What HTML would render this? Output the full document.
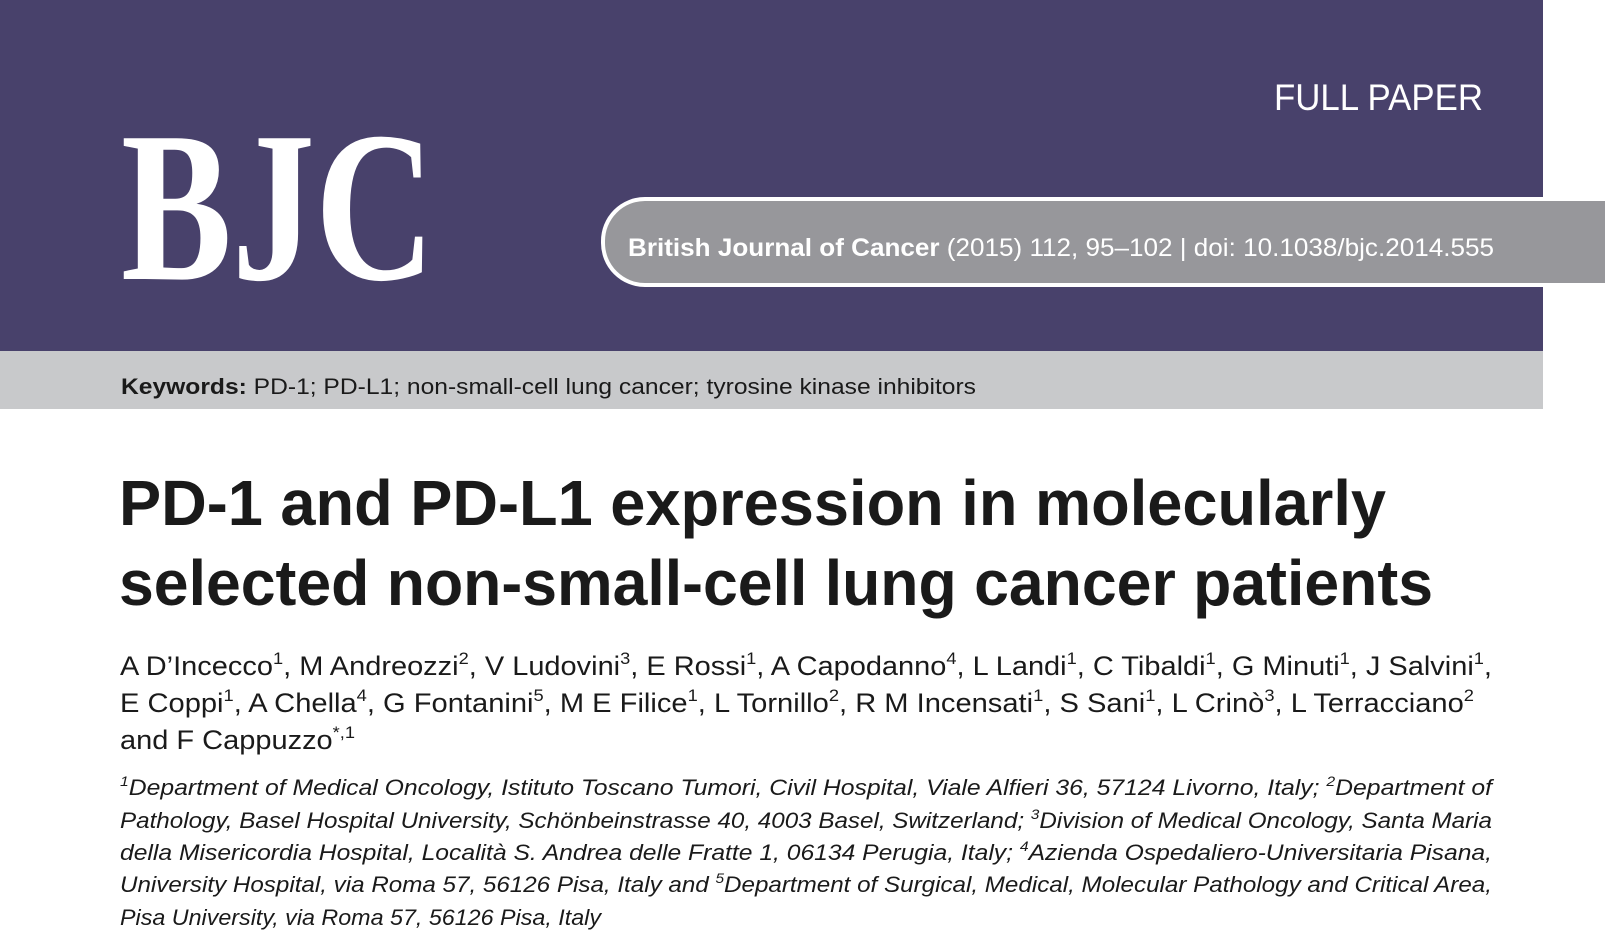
<!DOCTYPE html>
<html><head><meta charset="utf-8"><style>
html,body{margin:0;padding:0;background:#fff;width:1607px;height:936px;overflow:hidden}
svg{display:block}
</style></head><body>
<svg width="1607" height="936" viewBox="0 0 1607 936" xmlns="http://www.w3.org/2000/svg">
<rect x="0" y="0" width="1543" height="351" fill="#48416b"/>
<rect x="0" y="351" width="1543" height="58" fill="#c8c9cb"/>
<text x="1274" y="110" font-family="Liberation Sans, sans-serif" font-size="37" fill="#fff" textLength="209" lengthAdjust="spacingAndGlyphs">FULL PAPER</text>
<text x="121" y="279" font-family="Liberation Serif, serif" font-weight="bold" font-size="215" fill="#fff" textLength="314" lengthAdjust="spacingAndGlyphs">BJC</text>
<path d="M1607 199 H645 a42 42 0 0 0 -42 42 v2 a42 42 0 0 0 42 42 H1607 Z" fill="#97979b" stroke="#fff" stroke-width="4"/>
<text x="628" y="256" font-family="Liberation Sans, sans-serif" font-size="25" fill="#fff" textLength="866" lengthAdjust="spacingAndGlyphs"><tspan font-weight="bold">British Journal of Cancer</tspan> (2015) 112, 95–102 | doi: 10.1038/bjc.2014.555</text>
<text x="121" y="394" font-family="Liberation Sans, sans-serif" font-size="22" fill="#1a1a1a" textLength="855" lengthAdjust="spacingAndGlyphs"><tspan font-weight="bold">Keywords:</tspan> PD-1; PD-L1; non-small-cell lung cancer; tyrosine kinase inhibitors</text>
<g font-family="Liberation Sans, sans-serif" font-weight="bold" font-size="64" fill="#1a1a1a">
<text x="119" y="525" textLength="1267" lengthAdjust="spacingAndGlyphs">PD-1 and PD-L1 expression in molecularly</text>
<text x="119" y="605" textLength="1314" lengthAdjust="spacingAndGlyphs">selected non-small-cell lung cancer patients</text>
</g>
<g font-family="Liberation Sans, sans-serif" font-size="27" fill="#1a1a1a">
<text x="120" y="675" textLength="1372" lengthAdjust="spacingAndGlyphs">A D’Incecco<tspan font-size="17" dy="-11">1</tspan><tspan dy="11">, M Andreozzi</tspan><tspan font-size="17" dy="-11">2</tspan><tspan dy="11">, V Ludovini</tspan><tspan font-size="17" dy="-11">3</tspan><tspan dy="11">, E Rossi</tspan><tspan font-size="17" dy="-11">1</tspan><tspan dy="11">, A Capodanno</tspan><tspan font-size="17" dy="-11">4</tspan><tspan dy="11">, L Landi</tspan><tspan font-size="17" dy="-11">1</tspan><tspan dy="11">, C Tibaldi</tspan><tspan font-size="17" dy="-11">1</tspan><tspan dy="11">, G Minuti</tspan><tspan font-size="17" dy="-11">1</tspan><tspan dy="11">, J Salvini</tspan><tspan font-size="17" dy="-11">1</tspan><tspan dy="11">,</tspan></text>
<text x="120" y="712" textLength="1354" lengthAdjust="spacingAndGlyphs">E Coppi<tspan font-size="17" dy="-11">1</tspan><tspan dy="11">, A Chella</tspan><tspan font-size="17" dy="-11">4</tspan><tspan dy="11">, G Fontanini</tspan><tspan font-size="17" dy="-11">5</tspan><tspan dy="11">, M E Filice</tspan><tspan font-size="17" dy="-11">1</tspan><tspan dy="11">, L Tornillo</tspan><tspan font-size="17" dy="-11">2</tspan><tspan dy="11">, R M Incensati</tspan><tspan font-size="17" dy="-11">1</tspan><tspan dy="11">, S Sani</tspan><tspan font-size="17" dy="-11">1</tspan><tspan dy="11">, L Crinò</tspan><tspan font-size="17" dy="-11">3</tspan><tspan dy="11">, L Terracciano</tspan><tspan font-size="17" dy="-11">2</tspan></text>
<text x="120" y="749" textLength="235" lengthAdjust="spacingAndGlyphs">and F Cappuzzo<tspan font-size="17" dy="-11">*,1</tspan></text>
</g>
<g font-family="Liberation Sans, sans-serif" font-style="italic" font-size="22" fill="#1a1a1a">
<text x="120" y="795" textLength="1372" lengthAdjust="spacingAndGlyphs"><tspan font-size="14" dy="-9">1</tspan><tspan dy="9">Department of Medical Oncology, Istituto Toscano Tumori, Civil Hospital, Viale Alfieri 36, 57124 Livorno, Italy; </tspan><tspan font-size="14" dy="-9">2</tspan><tspan dy="9">Department of</tspan></text>
<text x="120" y="828" textLength="1372" lengthAdjust="spacingAndGlyphs">Pathology, Basel Hospital University, Schönbeinstrasse 40, 4003 Basel, Switzerland; <tspan font-size="14" dy="-9">3</tspan><tspan dy="9">Division of Medical Oncology, Santa Maria</tspan></text>
<text x="120" y="860" textLength="1372" lengthAdjust="spacingAndGlyphs">della Misericordia Hospital, Località S. Andrea delle Fratte 1, 06134 Perugia, Italy; <tspan font-size="14" dy="-9">4</tspan><tspan dy="9">Azienda Ospedaliero-Universitaria Pisana,</tspan></text>
<text x="120" y="892" textLength="1372" lengthAdjust="spacingAndGlyphs">University Hospital, via Roma 57, 56126 Pisa, Italy and <tspan font-size="14" dy="-9">5</tspan><tspan dy="9">Department of Surgical, Medical, Molecular Pathology and Critical Area,</tspan></text>
<text x="120" y="925" textLength="481" lengthAdjust="spacingAndGlyphs">Pisa University, via Roma 57, 56126 Pisa, Italy</text>
</g>
</svg>
</body></html>
